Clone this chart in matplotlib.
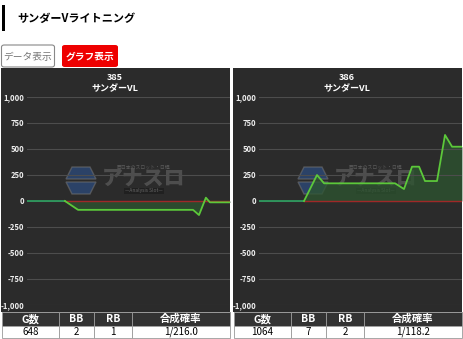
import matplotlib
matplotlib.use('Agg')
import matplotlib.pyplot as plt
from matplotlib.patches import Rectangle, Polygon, FancyBboxPatch
import numpy as np

plt.rcParams['font.family'] = ['Noto Sans CJK JP', 'DejaVu Sans']

# data
machine_name = 'サンダーVライトニング'
units = ['385', '386']
model = 'サンダーVL'
games_385 = [0, 121, 163, 530, 549, 571, 584, 648]
diff_385 = [0, 0, -85, -85, -135, 32, -13, -13]
games_386 = [0, 236, 304, 341, 713, 760, 802, 839, 870, 933, 975, 1012, 1064]
diff_386 = [0, 0, 250, 170, 170, 115, 330, 330, 192, 192, 635, 522, 522]
table_cols = ['G数', 'BB', 'RB', '合成確率']
table_385 = ['648', '2', '1', '1/216.0']
table_386 = ['1064', '7', '2', '1/118.2']
yticks = [-1000, -750, -500, -250, 0, 250, 500, 750, 1000]

W, H = 463, 339
fig = plt.figure(figsize=(W / 100, H / 100), dpi=100)
fig.patch.set_facecolor('white')


def fx(x):
    return x / W


def fy(y):
    return 1 - y / H


def rect(x0, y0, x1, y1, z=1, **kw):
    fig.patches.append(Rectangle((fx(x0), fy(y1)), fx(x1 - x0), (y1 - y0) / H,
                                 transform=fig.transFigure, zorder=z, **kw))


# header
rect(2, 5, 5, 31, facecolor='black', edgecolor='none')
fig.text(fx(17), fy(18), machine_name, fontsize=8, fontweight='bold', va='center', ha='left')

# tabs
fig.patches.append(FancyBboxPatch((fx(1.5), fy(67)), fx(53), 22 / H, boxstyle='round,pad=0,rounding_size=0.006',
                                  transform=fig.transFigure, facecolor='white', edgecolor='#888888', lw=0.8))
fig.text(fx(28), fy(57), 'データ表示', fontsize=7, color='#777777', ha='center', va='center')
fig.patches.append(FancyBboxPatch((fx(62), fy(67)), fx(56), 22 / H, boxstyle='round,pad=0,rounding_size=0.006',
                                  transform=fig.transFigure, facecolor='#ee0000', edgecolor='none'))
fig.text(fx(90), fy(57), 'グラフ表示', fontsize=7, color='white', fontweight='bold', ha='center', va='center')

panel_bg = '#2b2b2b'
teal = '#2e9a5e'
lime = '#5cc83a'


def watermark(ox):
    cx, cy = ox + 81, 180
    hexa = [(cx - 15, cy - 1), (cx - 9, cy - 13), (cx + 9, cy - 13), (cx + 15, cy - 1)]
    hexb = [(cx - 15, cy + 2), (cx - 9, cy + 14), (cx + 9, cy + 14), (cx + 15, cy + 2)]
    for pts in [hexa, hexb]:
        fig.patches.append(Polygon([(fx(a), fy(b)) for a, b in pts], closed=True, transform=fig.transFigure,
                                   facecolor='#2c5290', edgecolor='#707070', lw=1.0, alpha=0.6, zorder=-1))
    fig.text(fx(ox + 144), fy(179), 'アナスロ', fontsize=15, fontweight='black', color='#555555',
             ha='center', va='center', style='italic', alpha=0.85, zorder=-1)
    fig.text(fx(ox + 144), fy(167), '西日本のスロット・日程', fontsize=3.5, color='#5a5a5a',
             ha='center', va='center', zorder=-1)
    fig.text(fx(ox + 144), fy(191), '—Analysis Slot—', fontsize=3.5, color='#666666', ha='center', va='center',
             bbox=dict(facecolor='#202020', edgecolor='none', pad=0.6), zorder=-1)


def panel(ox, unit, games, diff, trow):
    rect(ox + 1, 68, ox + 230, 312, z=-2, facecolor=panel_bg, edgecolor='none')
    fig.text(fx(ox + 115), fy(77), unit, fontsize=6.5, color='white', fontweight='bold', ha='center', va='center')
    fig.text(fx(ox + 115), fy(89), model, fontsize=6.5, color='white', fontweight='bold', ha='center', va='center')
    watermark(ox)
    ax = fig.add_axes([fx(ox + 27), fy(305), fx(203), 208 / H])
    ax.set_facecolor('none')
    ax.set_xlim(0, games[-1])
    ax.set_ylim(-1000, 1000)
    ax.set_yticks(yticks)
    ax.set_yticklabels([f'{v:,}' for v in yticks], fontsize=5.5, color='#eeeeee', fontweight='bold')
    ax.tick_params(axis='y', length=0, pad=2)
    ax.set_xticks([])
    ax.grid(axis='y', color='#4d4d4d', lw=0.8)
    for s in ax.spines.values():
        s.set_visible(False)
    g = np.array(games)
    d = np.array(diff)
    ax.fill_between(g, d, 0, color='#2d5530', alpha=0.75, lw=0)
    ax.plot([g[1], g[-1]], [0, 0], color='#a02828', lw=1)
    ax.plot(g[:2], d[:2], color=teal, lw=1.3)
    ax.plot(g[1:], d[1:], color=lime, lw=1.3)
    # table
    edges = [ox + 2, ox + 59, ox + 94, ox + 132, ox + 230]
    for i in range(4):
        rect(edges[i], 312, edges[i + 1], 326, facecolor='#333333', edgecolor='#999999', lw=0.6)
        rect(edges[i], 326, edges[i + 1], 338, facecolor='white', edgecolor='#999999', lw=0.6)
        xc = (edges[i] + edges[i + 1]) / 2
        fig.text(fx(xc), fy(319), table_cols[i], fontsize=7.5, color='white', fontweight='bold',
                 ha='center', va='center')
        fig.text(fx(xc), fy(332), trow[i], fontsize=7, color='black', ha='center', va='center')


panel(0, units[0], games_385, diff_385, table_385)
panel(232, units[1], games_386, diff_386, table_386)

fig.savefig('out.png', dpi=100, facecolor='white')
